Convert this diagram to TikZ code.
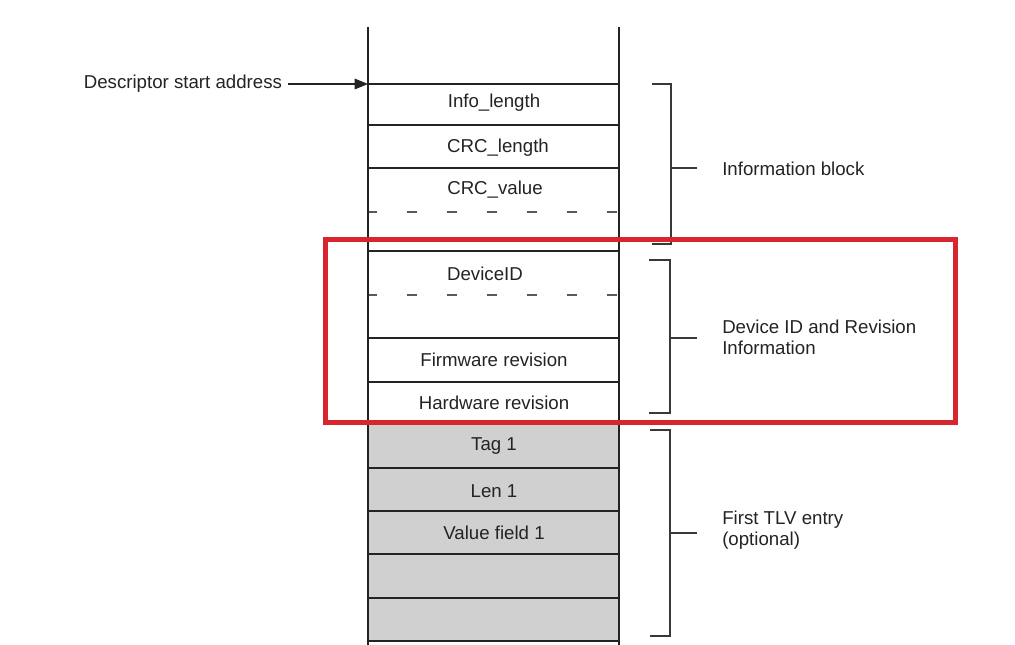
\documentclass[tikz,border=0pt]{standalone}
\usepackage{fontspec}
\setmainfont{Liberation Sans}
\usetikzlibrary{arrows.meta}
\definecolor{inkgray}{HTML}{232323}
\definecolor{tlvgray}{HTML}{D0D0D0}
\definecolor{markred}{HTML}{D9252E}

\begin{document}
\begin{tikzpicture}[
    x=0.75pt, y=-0.75pt,
    every node/.style={text=inkgray, font=\fontsize{14}{16}\selectfont, inner sep=0pt, align=left},
    field/.style={anchor=center},
    sideinfo/.style={anchor=west},
    rowline/.style={draw=inkgray, line width=0.8pt},
    cutline/.style={draw=inkgray!75, line width=0.8pt, dash pattern=on 7.5pt off 22.5pt},
    heavyline/.style={draw=inkgray, line width=1.9pt},
    bracket/.style={draw=inkgray!90, line width=0.8pt}
]
\useasboundingbox (0,0) rectangle (1015,645);

% TLV area
\fill[tlvgray] (368,423) rectangle (619,641);

% row separators
\foreach \y in {125,168,338,382,468,511,554,598}
    \draw[rowline] (368,\y) -- (619,\y);
\foreach \y in {212,295}
    \draw[cutline] (367,\y) -- (619,\y);
\foreach \y in {84,251,641}
    \draw[heavyline] (368,\y) -- (619,\y);

% column walls
\draw[heavyline, line width=1.5pt] (368,27) -- (368,645);
\draw[heavyline, line width=1.5pt] (619,27) -- (619,645);

% fields
\node (info_length) [field] at (494,103) {Info\_length};
\node (crc_length) [field] at (498,148) {CRC\_length};
\node (crc_value) [field] at (495,190) {CRC\_value};
\node (device_id) [field] at (485,274) {DeviceID};
\node (fw_revision) [field] at (494,360) {Firmware revision};
\node (hw_revision) [field] at (494,403) {Hardware revision};
\node (tag_1) [field] at (494,446) {Tag 1};
\node (len_1) [field] at (494,491) {Len 1};
\node (value_field_1) [field] at (494,533) {Value field 1};

% start address pointer
\node (start_label) [anchor=east, outer xsep=4.5pt] at (288,84) {Descriptor start address};
\coordinate (start_address) at (368,84);
\draw[draw=inkgray, line width=0.8pt, -{Triangle[length=10pt, width=8pt]}] (start_label.east) -- (start_address);

% brackets
\coordinate (info_brace) at (671,168);
\draw[bracket] (652,84) -- (671,84) -- (671,244) -- (652,244);
\draw[bracket] (info_brace) -- ++(26,0);
\node (info_block) [sideinfo] at (722,169) {Information block};

\coordinate (device_brace) at (670,338);
\draw[bracket] (649,260) -- (670,260) -- (670,413) -- (649,413);
\draw[bracket] (device_brace) -- ++(27,0);
\node (device_block) [sideinfo] at (722,337) {Device ID and Revision\\Information};

\coordinate (tlv_brace) at (670,533);
\draw[bracket] (650,430) -- (670,430) -- (670,636) -- (650,636);
\draw[bracket] (tlv_brace) -- ++(27,0);
\node (tlv_block) [sideinfo] at (722,530) {First TLV entry\\(optional)};

% highlight
\draw[markred, line width=3.6pt] (325.5,239.5) rectangle (955.5,422.5);
\end{tikzpicture}
\end{document}
